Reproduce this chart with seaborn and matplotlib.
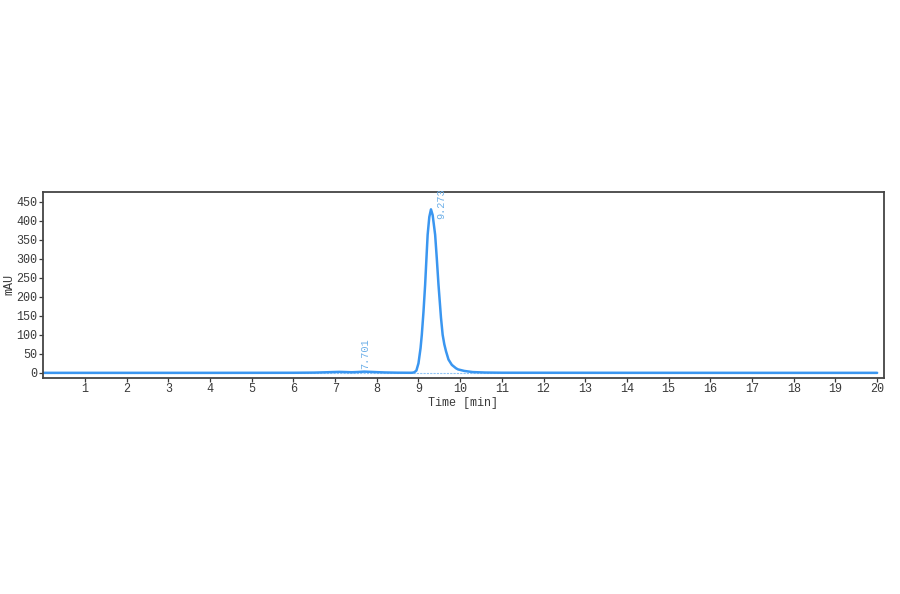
import seaborn as sns
import matplotlib.pyplot as plt

sns.set_theme(style="ticks")
plt.rcParams['font.family'] = ['Liberation Mono', 'DejaVu Sans Mono']

# chromatogram trace (time in min, signal in mAU)
time_min = [0.0, 2.0, 4.0, 6.0, 6.5, 6.8, 7.0, 7.1, 7.2, 7.4, 7.55, 7.7, 7.85, 8.0, 8.2,
            8.5, 8.8, 8.85, 8.9, 8.95, 9.0, 9.05, 9.08, 9.12, 9.16, 9.2, 9.22, 9.26, 9.3,
            9.34, 9.4, 9.44, 9.48, 9.54, 9.58, 9.62, 9.66, 9.72, 9.8, 9.9, 9.95, 10.1,
            10.3, 10.6, 11.0, 14.0, 17.0, 20.0]
signal_mau = [0.0, 0.0, 0.0, 0.2, 0.6, 1.5, 2.2, 2.5, 2.2, 1.5, 2.2, 3.2, 2.5, 1.8, 1.0,
              0.4, 0.2, 0.3, 1.5, 6.0, 25.0, 65.0, 100.0, 160.0, 232.0, 320.0, 363.0,
              410.0, 430.0, 415.0, 363.0, 300.0, 232.0, 145.0, 100.0, 75.0, 57.0, 35.0,
              21.0, 12.0, 9.0, 5.0, 2.0, 0.8, 0.3, 0.1, 0.0, 0.0]

peak_times = [7.72, 9.54]
peak_label_base = [10.0, 405.0]
peak_labels = ["7.701", "9.273"]

line_color = "#3a96f0"
label_color = "#6aaee8"
text_color = "#3a3a3a"

fig = plt.figure(figsize=(9, 5.94), dpi=100)
ax = fig.add_axes([0.048, 0.364, 0.934, 0.313])

ax.plot([0, 20], [0, 0], color="#8fc3f5", linewidth=0.8, linestyle=(0, (2, 1)), zorder=1)
sns.lineplot(x=time_min, y=signal_mau, ax=ax, color=line_color, linewidth=1.8, zorder=2)

for t, base, lab in zip(peak_times, peak_label_base, peak_labels):
    ax.text(t, base, lab, rotation=90, color=label_color, fontsize=7.4,
            ha="center", va="bottom", clip_on=False)

ax.set_xlim(0, 20.16)
ax.set_ylim(-13, 476)
ax.set_xticks(range(1, 21))
ax.set_yticks(range(0, 451, 50))
ax.tick_params(labelsize=8.5, colors=text_color, length=3, width=0.9, pad=1)
ax.set_xlabel("Time [min]", fontsize=8.5, color=text_color, labelpad=1)
ax.set_ylabel("mAU", fontsize=8.5, color=text_color, labelpad=1)
for s in ax.spines.values():
    s.set_visible(True)
    s.set_color("#444444")
    s.set_linewidth(1.3)

plt.savefig("out.png", dpi=100)
